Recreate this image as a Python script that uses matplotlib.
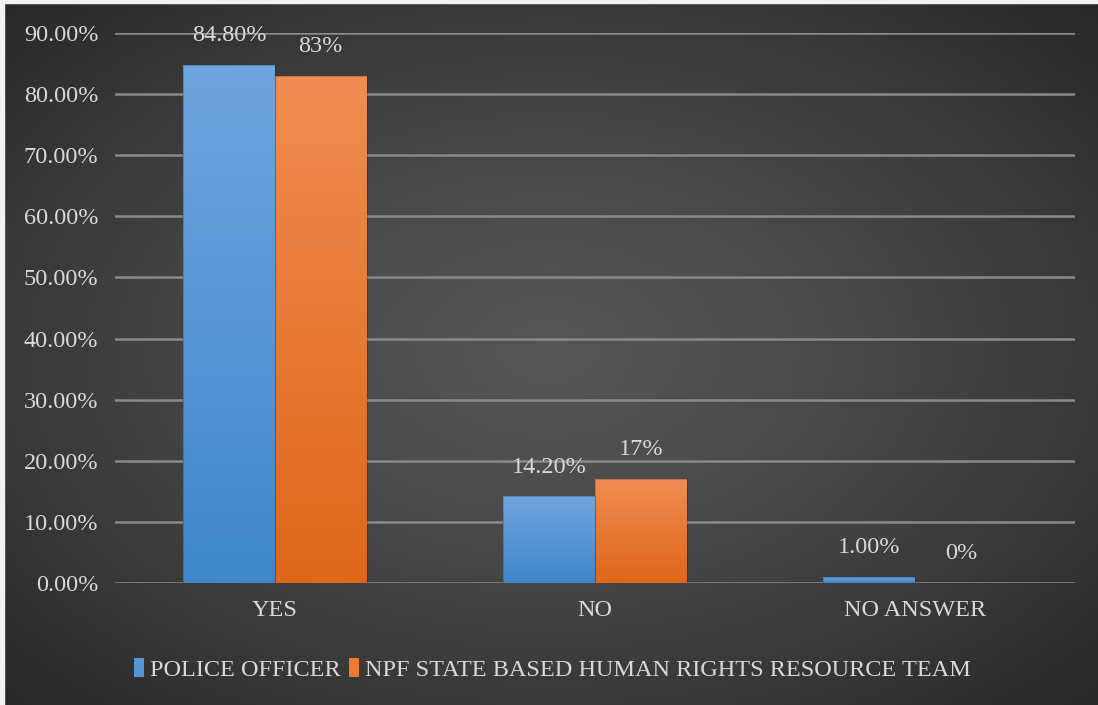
import numpy as np
import matplotlib
matplotlib.use("Agg")
import matplotlib.pyplot as plt
from matplotlib.patches import Patch
from matplotlib.colors import LinearSegmentedColormap

categories = ["YES", "NO", "NO ANSWER"]
series_names = ["POLICE OFFICER", "NPF STATE BASED HUMAN RIGHTS RESOURCE TEAM"]
police = [84.8, 14.2, 1.0]
npf = [83, 17, 0]
police_labels = ["84.80%", "14.20%", "1.00%"]
npf_labels = ["83%", "17%", "0%"]
yticks = [0, 10, 20, 30, 40, 50, 60, 70, 80, 90]

plt.rcParams['font.family'] = ['Liberation Serif', 'DejaVu Serif']
txt_col = "#d9d9d9"
grid_col = "#8a8a8a"
fs = 17.5

fig = plt.figure(figsize=(10.98, 7.05), dpi=100)

# radial background
bg = fig.add_axes([0, 0, 1, 1], zorder=-10)
yy, xx = np.mgrid[-1:1:300j, -1:1:460j]
r = np.clip(np.sqrt(xx ** 2 + yy ** 2) / np.sqrt(2), 0, 1)
v = 0.335 - (0.335 - 0.155) * r ** 1.3
img = np.dstack([v, v, v])
bg.imshow(img, extent=[0, 1, 0, 1], aspect='auto', interpolation='bicubic')
bg.set_xlim(0, 1)
bg.set_ylim(0, 1)
bg.axis('off')
# thin light edges at top and left
fig.patches.append(plt.Rectangle((0, 1 - 3 / 705), 1, 3 / 705, transform=fig.transFigure,
                                 color="#f2f2f2", zorder=5))
fig.patches.append(plt.Rectangle((0, 0), 4 / 1098, 1, transform=fig.transFigure,
                                 color="#f2f2f2", zorder=5))

ax = fig.add_axes([115 / 1098, 122 / 705, 960 / 1098, 550 / 705])
ax.patch.set_alpha(0)
x = np.arange(len(categories))
w = 0.286

b1 = ax.bar(x - w / 2, police, w, color="#5596d6", zorder=3)
b2 = ax.bar(x + w / 2, npf, w, color="#ec7a30", zorder=3)

blue_cm = LinearSegmentedColormap.from_list("b", ["#4087cc", "#6fa5de"])
orng_cm = LinearSegmentedColormap.from_list("o", ["#de6719", "#f18c52"])
grad = np.linspace(0, 1, 100).reshape(-1, 1)
for bars, cm in ((b1, blue_cm), (b2, orng_cm)):
    for p in bars:
        h = p.get_height()
        if h <= 0:
            continue
        x0 = p.get_x()
        im = ax.imshow(grad, extent=[x0, x0 + p.get_width(), 0, h], origin='lower',
                       cmap=cm, aspect='auto', zorder=3.5)
        im.set_clip_path(p)
        p.set_edgecolor((0, 0, 0, 0.18))
        p.set_linewidth(0.8)
        p.set_zorder(4)
        p.set_facecolor('none')

for bars, labels in ((b1, police_labels), (b2, npf_labels)):
    for p, lab in zip(bars, labels):
        ax.annotate(lab, (p.get_x() + p.get_width() / 2, p.get_height()),
                    xytext=(0, 21), textcoords='offset points', ha='center', va='center',
                    color=txt_col, fontsize=fs, zorder=6)

ax.set_xlim(-0.5, 2.5)
ax.set_ylim(0, 90)
ax.set_yticks(yticks)
ax.set_yticklabels([f"{t:.2f}%" for t in yticks])
ax.set_xticks(x)
ax.set_xticklabels(categories)
ax.tick_params(axis='both', length=0, colors=txt_col, labelsize=fs)
ax.tick_params(axis='y', pad=12)
ax.tick_params(axis='x', pad=12)
ax.yaxis.grid(True, color=grid_col, linewidth=1.8, zorder=1)
ax.set_axisbelow(True)
for s in ax.spines.values():
    s.set_visible(False)

handles = [Patch(facecolor="#5596d6"), Patch(facecolor="#ec7a30")]
fig.legend(handles, series_names, loc='center', bbox_to_anchor=(0.503, 0.05), ncol=2,
           frameon=False, fontsize=fs, labelcolor=txt_col, handlelength=0.42,
           handleheight=0.8, handletextpad=0.25, columnspacing=0.35)

fig.savefig("out.png", dpi=100)
